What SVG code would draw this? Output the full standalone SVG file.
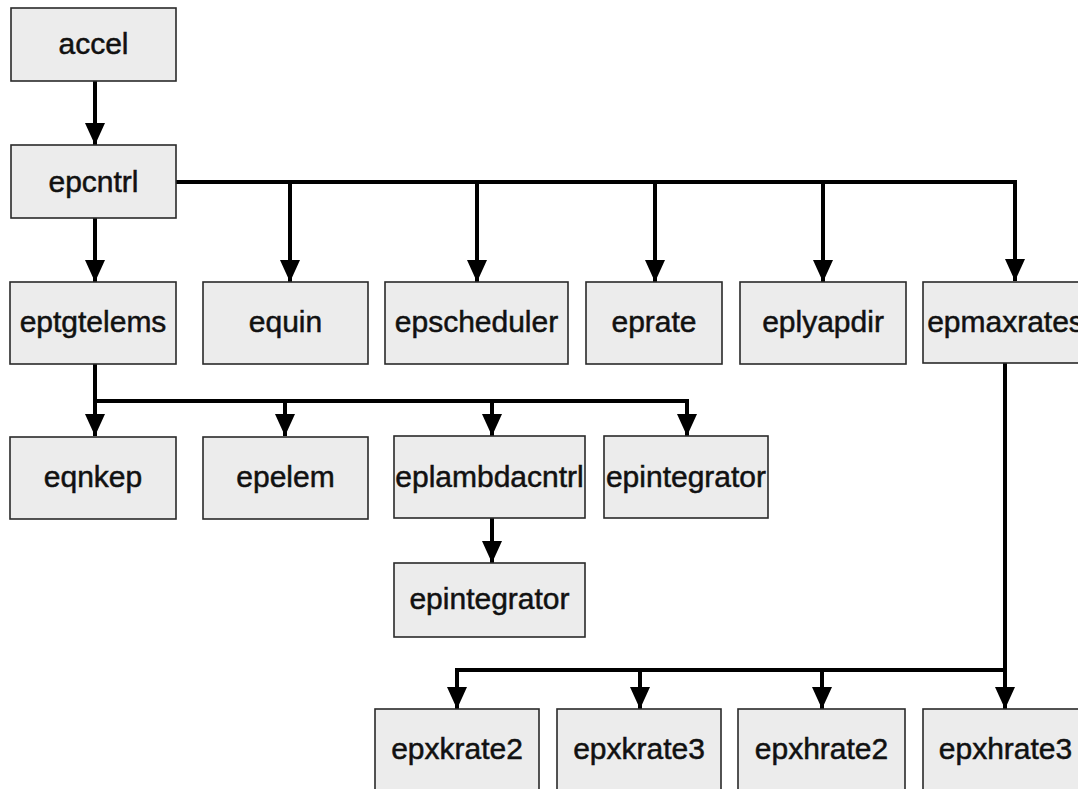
<svg xmlns="http://www.w3.org/2000/svg" width="1078" height="789" viewBox="0 0 1078 789">
<style>
.box{fill:#ececec;stroke:#2a2a2a;stroke-width:1.6}
.lbl{font-family:"Liberation Sans",Arial,sans-serif;font-size:30px;fill:#111;stroke:#111;stroke-width:0.5;text-anchor:middle}
.con{fill:none;stroke:#000;stroke-width:4}
</style>
<defs>
<marker id="arr" viewBox="0 0 22 20" refX="22" refY="10" markerWidth="22" markerHeight="20" markerUnits="userSpaceOnUse" orient="auto">
<path d="M0,0 L22,10 L0,20 z" fill="#000"/>
</marker>
</defs>
<rect width="1078" height="789" fill="#fff"/>
<g id="connectors">
<path class="con" d="M95,81 V145" marker-end="url(#arr)"/>
<path class="con" d="M95,218 V282" marker-end="url(#arr)"/>
<path class="con" d="M176,182 H1015 V281" marker-end="url(#arr)"/>
<path class="con" d="M290,182 V282" marker-end="url(#arr)"/>
<path class="con" d="M477,182 V282" marker-end="url(#arr)"/>
<path class="con" d="M655,182 V282" marker-end="url(#arr)"/>
<path class="con" d="M823,182 V282" marker-end="url(#arr)"/>
<path class="con" d="M95,364 V436" marker-end="url(#arr)"/>
<path class="con" d="M95,401 H687 V436" marker-end="url(#arr)"/>
<path class="con" d="M285,401 V436" marker-end="url(#arr)"/>
<path class="con" d="M492,401 V436" marker-end="url(#arr)"/>
<path class="con" d="M492,518 V563" marker-end="url(#arr)"/>
<path class="con" d="M1005,363 V709" marker-end="url(#arr)"/>
<path class="con" d="M1005,670 H457 V709" marker-end="url(#arr)"/>
<path class="con" d="M640,670 V709" marker-end="url(#arr)"/>
<path class="con" d="M822,670 V709" marker-end="url(#arr)"/>
</g>
<g id="accel"><rect class="box" x="11" y="8" width="165" height="73"/><text class="lbl" x="93.5" y="54">accel</text></g>
<g id="epcntrl"><rect class="box" x="11" y="145" width="165" height="73"/><text class="lbl" x="93.5" y="192">epcntrl</text></g>
<g id="eptgtelems"><rect class="box" x="10" y="282" width="166" height="82"/><text class="lbl" x="93" y="332">eptgtelems</text></g>
<g id="equin"><rect class="box" x="203" y="282" width="165" height="82"/><text class="lbl" x="285.5" y="332">equin</text></g>
<g id="epscheduler"><rect class="box" x="385" y="282" width="183" height="82"/><text class="lbl" x="476.5" y="332">epscheduler</text></g>
<g id="eprate"><rect class="box" x="586" y="282" width="136" height="82"/><text class="lbl" x="654" y="332">eprate</text></g>
<g id="eplyapdir"><rect class="box" x="740" y="282" width="166" height="82"/><text class="lbl" x="823" y="332">eplyapdir</text></g>
<g id="epmaxrates"><rect class="box" x="923" y="282" width="165" height="81"/><text class="lbl" x="1005.5" y="332">epmaxrates</text></g>
<g id="eqnkep"><rect class="box" x="10" y="437" width="166" height="82"/><text class="lbl" x="93" y="487">eqnkep</text></g>
<g id="epelem"><rect class="box" x="203" y="437" width="165" height="82"/><text class="lbl" x="285.5" y="487">epelem</text></g>
<g id="eplambdacntrl"><rect class="box" x="394" y="436" width="191" height="82"/><text class="lbl" x="489.5" y="487">eplambdacntrl</text></g>
<g id="epintegrator1"><rect class="box" x="604" y="436" width="164" height="82"/><text class="lbl" x="686" y="487">epintegrator</text></g>
<g id="epintegrator2"><rect class="box" x="394" y="563" width="191" height="74"/><text class="lbl" x="489.5" y="609">epintegrator</text></g>
<g id="epxkrate2"><rect class="box" x="375" y="709" width="164" height="90"/><text class="lbl" x="457" y="759">epxkrate2</text></g>
<g id="epxkrate3"><rect class="box" x="557" y="709" width="164" height="90"/><text class="lbl" x="639" y="759">epxkrate3</text></g>
<g id="epxhrate2"><rect class="box" x="738" y="709" width="167" height="90"/><text class="lbl" x="821.5" y="759">epxhrate2</text></g>
<g id="epxhrate3"><rect class="box" x="923" y="709" width="165" height="90"/><text class="lbl" x="1005.5" y="759">epxhrate3</text></g>
</svg>
